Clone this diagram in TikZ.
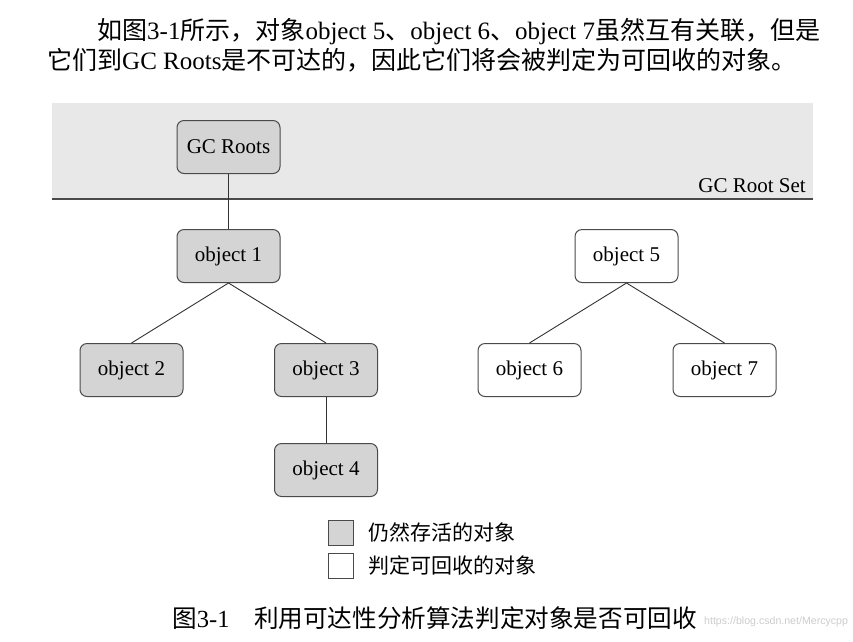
\documentclass[tikz,border=0pt]{standalone}
\usepackage{fontspec}
\setmainfont{Liberation Serif}
\newfontfamily\cjk{Noto Sans CJK SC}
\newfontfamily\wmfont{Liberation Sans}
\definecolor{bandgray}{HTML}{E8E8E8}
\definecolor{livegray}{HTML}{D4D4D4}
\definecolor{edgegray}{HTML}{4A4A4A}
\definecolor{linegray}{HTML}{333333}
\begin{document}
\begin{tikzpicture}[x=1pt,y=-1pt,
  obj/.style={draw=edgegray, line width=1pt, rounded corners=7pt,
    minimum width=103pt, minimum height=53pt, inner sep=0pt,
    font=\fontsize{21}{24}\selectfont},
  live/.style={obj, fill=livegray},
  dead/.style={obj, fill=white},
  conn/.style={draw=linegray, line width=0.9pt},
  legbox/.style={draw=edgegray, line width=0.8pt, minimum size=25pt, inner sep=0pt},
  legtext/.style={anchor=west, inner sep=0pt, font=\fontsize{21}{24}\selectfont\cjk}
]
\useasboundingbox (0,0) rectangle (853,641);
% intro text
\node[anchor=base west, inner sep=0pt, font=\fontsize{25}{28}\selectfont] (line1) at (97,39)
  {{\cjk 如图}3-1{\cjk 所示，对象}object 5{\cjk 、}object 6{\cjk 、}object 7{\cjk 虽然互有关联，但是}};
\node[anchor=base west, inner sep=0pt, font=\fontsize{25}{28}\selectfont] (line2) at (47,69)
  {{\cjk 它们到}GC Roots{\cjk 是不可达的，因此它们将会被判定为可回收的对象。}};
% root set band
\fill[bandgray] (52,103) rectangle (813,199);
\draw[edgegray, line width=1.6pt] (52,199) -- (813,199);
\node[anchor=base east, inner sep=0pt, font=\fontsize{21}{24}\selectfont] (rootset) at (806,192) {GC Root Set};
% nodes
\node[live] (gc) at (228.5,147) {GC Roots};
\node[live] (o1) at (228.5,256) {object 1};
\node[live] (o2) at (131.5,370) {object 2};
\node[live] (o3) at (326,370) {object 3};
\node[live] (o4) at (326,470) {object 4};
\node[dead] (o5) at (626.5,256) {object 5};
\node[dead] (o6) at (529.5,370) {object 6};
\node[dead] (o7) at (724.5,370) {object 7};
% connectors
\draw[conn] (gc.south) -- (o1.north);
\draw[conn] (o1.south) -- (o2.north);
\draw[conn] (o1.south) -- (o3.north);
\draw[conn] (o3.south) -- (o4.north);
\draw[conn] (o5.south) -- (o6.north);
\draw[conn] (o5.south) -- (o7.north);
% legend
\node[legbox, fill=livegray] (legA) at (340.5,532.5) {};
\node[legtext] (legAt) at (368,532.5) {仍然存活的对象};
\node[legbox, fill=white] (legB) at (340.5,565.5) {};
\node[legtext] (legBt) at (368,565.5) {判定可回收的对象};
% caption
\node[anchor=base west, inner sep=0pt, font=\fontsize{24.6}{27}\selectfont] (cap) at (172,627)
  {{\cjk 图}3-1{\cjk 　利用可达性分析算法判定对象是否可回收}};
% watermark
\node[anchor=base west, inner sep=0pt, text=black!20, font=\fontsize{10.6}{13}\selectfont\wmfont] (wm) at (704,624) {https://blog.csdn.net/Mercycpp};
\end{tikzpicture}
\end{document}
